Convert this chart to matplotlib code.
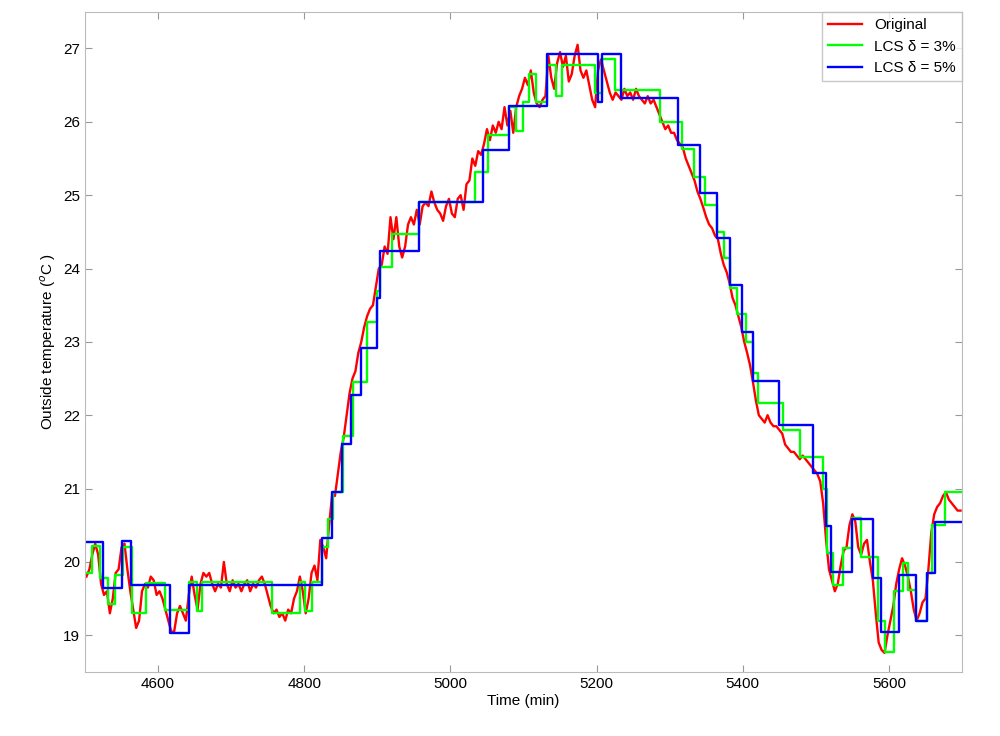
import numpy as np
import matplotlib
matplotlib.use("Agg")
import matplotlib.pyplot as plt

plt.rcParams['font.family'] = ['Liberation Sans', 'DejaVu Sans']

red_vals = [19.8,19.9,20.1,20.25,20.1,19.7,19.55,19.6,19.3,19.5,19.85,19.9,20.2,20.25,19.9,19.6,19.35,19.1,19.2,19.6,
 19.7,19.65,19.8,19.75,19.55,19.6,19.5,19.35,19.2,19.05,19.05,19.3,19.4,19.3,19.2,19.55,19.8,19.55,19.35,19.7,
 19.85,19.8,19.85,19.7,19.6,19.7,19.65,20.0,19.7,19.6,19.75,19.65,19.7,19.6,19.7,19.75,19.6,19.7,19.65,19.75,
 19.8,19.7,19.55,19.4,19.3,19.35,19.25,19.3,19.2,19.35,19.3,19.5,19.6,19.8,19.6,19.3,19.5,19.85,19.95,19.75,
 20.3,20.2,20.05,20.5,20.9,20.9,21.2,21.5,21.7,22.0,22.3,22.5,22.6,22.85,23.0,23.2,23.35,23.45,23.5,23.75,
 24.0,24.05,24.3,24.2,24.7,24.4,24.7,24.3,24.15,24.3,24.6,24.7,24.6,24.8,24.6,24.85,24.9,24.85,25.05,24.9,
 24.8,24.75,24.65,24.85,24.95,24.75,24.7,24.95,25.0,24.8,25.15,25.2,25.5,25.4,25.6,25.55,25.7,25.9,25.75,25.95,
 25.85,26.0,25.9,26.2,25.95,26.15,25.85,26.2,26.35,26.45,26.6,26.5,26.7,26.4,26.25,26.2,26.3,26.35,26.9,26.6,
 26.45,26.8,26.95,26.75,26.9,26.55,26.65,26.9,27.05,26.7,26.6,26.7,26.5,26.3,26.2,26.7,26.85,26.7,26.55,26.4,
 26.3,26.4,26.35,26.3,26.45,26.35,26.4,26.3,26.45,26.35,26.3,26.25,26.35,26.25,26.3,26.2,26.1,26.0,25.9,25.95,
 25.85,25.85,25.75,25.7,25.65,25.5,25.4,25.3,25.2,25.05,24.95,24.83,24.7,24.6,24.55,24.45,24.4,24.2,24.05,23.95,
 23.8,23.6,23.5,23.35,23.2,23.0,22.85,22.68,22.45,22.2,22.0,21.95,21.9,22.0,21.9,21.85,21.85,21.8,21.75,21.6,
 21.55,21.5,21.5,21.45,21.4,21.45,21.4,21.35,21.3,21.25,21.2,21.1,20.8,20.3,19.9,19.75,19.6,19.7,19.95,20.15,
 20.2,20.5,20.65,20.55,20.2,20.1,20.25,20.3,20.0,19.75,19.3,18.9,18.8,18.76,19.0,19.2,19.4,19.7,19.9,20.05,
 19.95,19.8,19.6,19.35,19.2,19.3,19.45,19.5,19.9,20.4,20.65,20.75,20.8,20.9,20.95,20.85,20.8,20.75,20.7,20.7]
red_time = np.linspace(4502, 5698, len(red_vals))

green_t = [4500,4510,4521,4531,4541,4552,4564,4583,4609,4642,4653,4660,4756,4794,4801,4811,4824,4832,4839,4853,
 4867,4886,4900,4904,4920,4957,5034,5051,5080,5090,5099,5108,5117,5132,5144,5153,5198,5207,5225,5287,
 5317,5333,5348,5365,5374,5383,5392,5404,5414,5421,5455,5478,5510,5515,5523,5537,5549,5562,5585,5594,
 5607,5619,5626,5637,5652,5659,5677]
green_v = [19.85,20.22,19.78,19.42,19.82,20.2,19.31,19.71,19.34,19.73,19.33,19.73,19.3,19.72,19.33,19.73,20.2,20.58,20.95,21.71,
 22.45,23.27,23.7,24.02,24.47,24.9,25.31,25.82,26.2,25.88,26.27,26.65,26.27,26.78,26.35,26.78,26.39,26.85,26.43,26.0,
 25.63,25.25,24.87,24.5,24.14,23.74,23.38,23.0,22.57,22.17,21.8,21.43,21.0,20.12,19.69,20.19,20.6,20.07,19.2,18.77,
 19.61,19.99,19.62,19.2,19.85,20.5,20.95]

blue_t = [4500,4525,4551,4563,4616,4642,4824,4838,4852,4864,4878,4900,4904,4957,5045,5080,5132,5202,5207,5233,
 5311,5341,5365,5383,5399,5414,5450,5496,5514,5521,5549,5578,5589,5614,5637,5652,5663]
blue_v = [20.27,19.65,20.29,19.68,19.03,19.68,20.33,20.95,21.61,22.27,22.92,23.6,24.24,24.9,25.61,26.21,26.92,26.27,26.92,26.32,
 25.69,25.03,24.41,23.78,23.14,22.47,21.86,21.21,20.49,19.86,20.59,19.78,19.05,19.82,19.2,19.85,20.54]

fig = plt.figure(figsize=(10, 7.36), dpi=100)
ax = fig.add_axes([0.085, 0.087, 0.877, 0.897])
ax.plot(red_time, red_vals, color='red', lw=1.7, label='Original')
ax.step(green_t + [5700], green_v + [green_v[-1]], where='post', color=(0, 1, 0), lw=1.7, label='LCS \u03b4 = 3%')
ax.step(blue_t + [5700], blue_v + [blue_v[-1]], where='post', color='blue', lw=1.7, label='LCS \u03b4 = 5%')
ax.set_xlim(4500, 5700)
ax.set_ylim(18.5, 27.5)
ax.set_xticks([4600, 4800, 5000, 5200, 5400, 5600])
ax.set_yticks(range(19, 28))
ax.tick_params(labelsize=11, direction='in', top=True, right=True, length=5, color='#999999')
for s in ax.spines.values():
    s.set_color('#bbbbbb')
ax.set_xlabel('Time (min)', fontsize=11, labelpad=2)
ax.set_ylabel('Outside temperature ($^o$C )', fontsize=11)
leg = ax.legend(loc='upper right', fontsize=11, fancybox=False, borderaxespad=0, handlelength=2.2)
leg.get_frame().set_edgecolor('#bbbbbb')
fig.savefig('out.png', dpi=100)
